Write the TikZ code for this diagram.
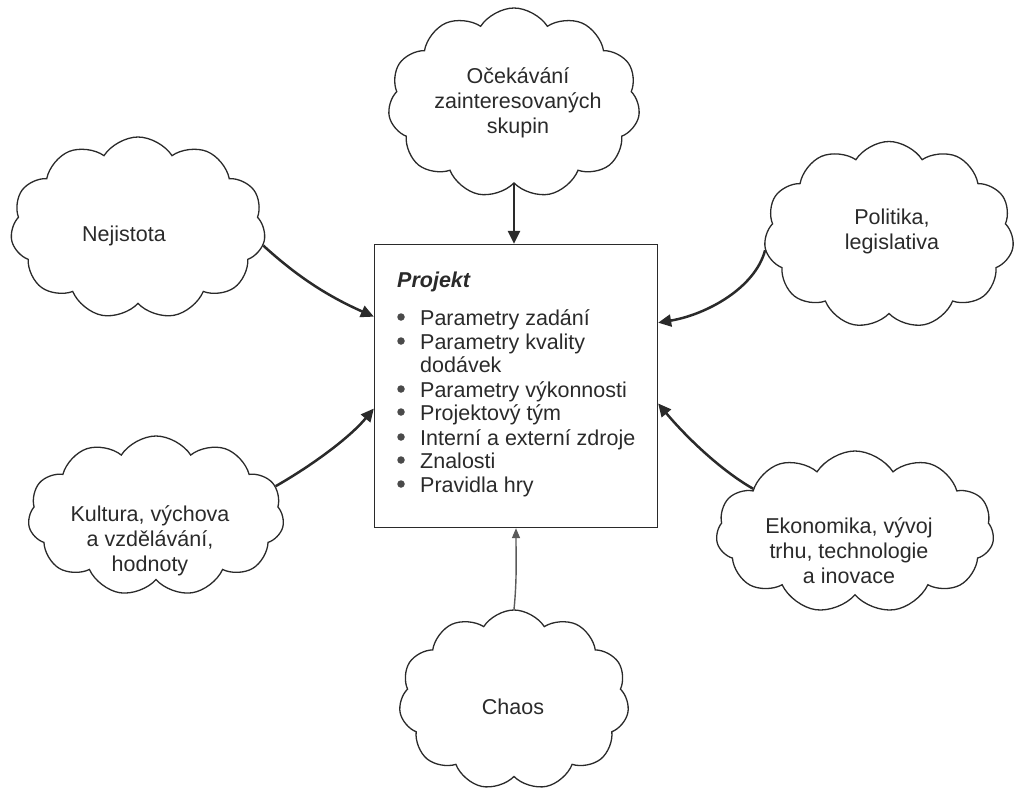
\documentclass[tikz,border=0pt]{standalone}
\usepackage{fontspec}
\setmainfont{Liberation Sans}
\usetikzlibrary{shapes.symbols,arrows.meta}
\definecolor{ink}{HTML}{2A2A2A}
\definecolor{faint}{HTML}{5A5A5A}

\begin{document}
\begin{tikzpicture}[x=1pt,y=-1pt,
  cloudbox/.style={cloud, cloud puffs=11, cloud puff arc=115, draw=ink,
    line width=1.3pt, inner sep=0pt},
  cloudtxt/.style={align=center, inner sep=0pt, text=ink,
    font=\fontsize{21.5}{25}\selectfont},
  itemtxt/.style={inner sep=0pt, anchor=base west, text=ink,
    font=\fontsize{21.5}{24}\selectfont},
  bullet/.style={circle, inner sep=0pt, minimum size=7.5pt, fill=ink!85},
  projbox/.style={draw=ink, line width=1.3pt, minimum width=283pt,
    minimum height=283pt, inner sep=0pt},
  conn/.style={draw=ink, line width=2.5pt, -{Triangle[length=13pt,width=12pt]}},
  thinconn/.style={draw=faint, line width=1.4pt, -{Triangle[length=10pt,width=8pt]}}
]
\useasboundingbox (0,0) rectangle (1015,792);

% central project box
\node[projbox] (box) at (516,386) {};
\node[itemtxt, font=\fontsize{21.5}{24}\selectfont\bfseries\itshape] (proj) at (397,287) {Projekt};
\foreach \y/\t [count=\i] in {325/Parametry zadání, 349/Parametry kvality,
    397/Parametry výkonnosti, 420/Projektový tým, 445/Interní a externí zdroje,
    468/Znalosti, 492/Pravidla hry}{
  \node[bullet] (b\i) at (401,\y-8) {};
  \node[itemtxt] (it\i) at (420,\y) {\t};
}
\node[itemtxt] (it2b) at (420,372) {dodávek};

% surrounding influences
\node[cloudbox, minimum width=252pt, minimum height=190pt] (ctop) at (514,103) {};
\node[cloudtxt] (ttop) at (518,103) {Očekávání\\zainteresovaných\\skupin};

\node[cloudbox, minimum width=255pt, minimum height=182pt] (cnej) at (138,228) {};
\node[cloudtxt] (tnej) at (124,236) {Nejistota};

\node[cloudbox, minimum width=250pt, minimum height=187pt] (cpol) at (889,235) {};
\node[cloudtxt] (tpol) at (892,231) {Politika,\\legislativa};

\node[cloudbox, minimum width=256pt, minimum height=160pt] (ckul) at (156,516) {};
\node[cloudtxt] (tkul) at (150,541) {Kultura, výchova\\a vzdělávání,\\hodnoty};

\node[cloudbox, minimum width=278pt, minimum height=162pt] (ceko) at (855,532) {};
\node[cloudtxt] (teko) at (849,551) {Ekonomika, vývoj\\trhu, technologie\\a inovace};

\node[cloudbox, minimum width=230pt, minimum height=180pt] (cchaos) at (514,700) {};
\node[cloudtxt] (tchaos) at (513,707) {Chaos};

% influences acting on the project
\draw[conn] (ctop.south) -- (box.north -| ctop.south);
\draw[conn] (cnej.-8) .. controls +(35,32) and +(-45,-20) .. (box.154.6);
\draw[conn] (cpol.187) .. controls +(-10,38) and +(48,-8) .. (box.24.1);
\draw[conn] (ckul.14) .. controls +(35,-20) and +(-25,30) .. (box.189);
\draw[conn] (ceko.157.6) .. controls +(-35,-20) and +(25,30) .. (box.-7.8);
\draw[thinconn] (cchaos.north) .. controls +(3,-30) and +(0,30) .. (box.south);
\end{tikzpicture}
\end{document}
